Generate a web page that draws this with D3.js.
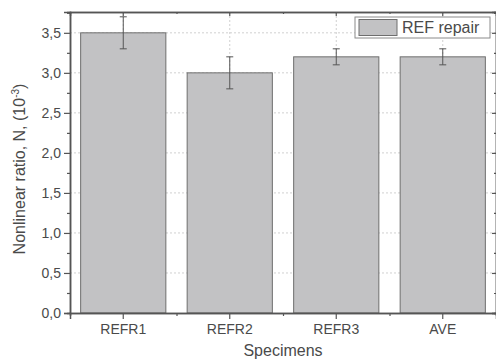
<!DOCTYPE html>
<html>
<head>
<meta charset="utf-8">
<script src="https://cdn.jsdelivr.net/npm/d3@7"></script>
<style>
  body { margin: 0; background: #fff; }
  text { font-family: "Liberation Sans", Arial, sans-serif; fill: #4a4a4a; }
</style>
</head>
<body>
<div id="chart"></div>
<script>
var categories = ['REFR1', 'REFR2', 'REFR3', 'AVE'];
var values = [3.5, 3.0, 3.2, 3.2];
var errLow = [3.3, 2.8, 3.1, 3.1];
var errHigh = [3.7, 3.2, 3.3, 3.3];
var yTicks = [0, 0.5, 1.0, 1.5, 2.0, 2.5, 3.0, 3.5];
var seriesName = 'REF repair';

var W = 496, H = 361;
var margin = {top: 12, right: 0, bottom: 48, left: 70};
var width = W - margin.left - margin.right,
    height = H - margin.top - margin.bottom;
var axisColor = '#555';
var fmt = function(d) { return d3.format('.1f')(d).replace('.', ','); };

var svg = d3.select('#chart').append('svg')
    .attr('width', W)
    .attr('height', H);

var g = svg.append('g')
    .attr('transform', 'translate(' + margin.left + ',' + margin.top + ')');

var x = d3.scaleBand()
    .domain(categories)
    .range([0, width])
    .paddingInner(0.2)
    .paddingOuter(0.1);

var xc = function(d) { return x(d) + x.bandwidth() / 2; };
var step = width / categories.length;

var y = d3.scaleLinear()
    .domain([0, 3.76])
    .range([height, 0]);

var minorY = d3.range(0.25, 3.76, 0.5);

// grid
g.append('g').selectAll('line').data(yTicks.slice(1)).enter().append('line')
    .attr('x1', 0).attr('x2', width)
    .attr('y1', function(d) { return y(d); })
    .attr('y2', function(d) { return y(d); })
    .attr('stroke', '#d0d0d0')
    .attr('stroke-dasharray', '2,2');

g.append('g').selectAll('line').data(categories).enter().append('line')
    .attr('x1', xc).attr('x2', xc)
    .attr('y1', 0).attr('y2', height)
    .attr('stroke', '#d0d0d0')
    .attr('stroke-dasharray', '2,2');

// bars
g.selectAll('rect.bar').data(values).enter().append('rect')
    .attr('class', 'bar')
    .attr('x', function(d, i) { return x(categories[i]); })
    .attr('width', x.bandwidth())
    .attr('y', function(d) { return y(d); })
    .attr('height', function(d) { return height - y(d); })
    .attr('fill', '#c2c2c4')
    .attr('stroke', '#6e6e6e')
    .attr('stroke-width', 1);

// error bars
var eb = g.append('g').attr('stroke', '#555').attr('stroke-width', 1);
categories.forEach(function(c, i) {
  var cx = xc(c);
  eb.append('line').attr('x1', cx).attr('x2', cx)
    .attr('y1', y(errLow[i])).attr('y2', y(errHigh[i]));
  [errLow[i], errHigh[i]].forEach(function(v) {
    eb.append('line').attr('x1', cx - 3.5).attr('x2', cx + 3.5)
      .attr('y1', y(v)).attr('y2', y(v));
  });
});

// axes
g.append('g')
    .call(d3.axisLeft(y).tickValues(yTicks).tickFormat(fmt).tickSize(6).tickPadding(3));
g.append('g').call(d3.axisLeft(y).tickValues(minorY).tickFormat('').tickSize(3));

g.append('g').attr('transform', 'translate(' + width + ',0)')
    .call(d3.axisLeft(y).tickValues(yTicks).tickFormat('').tickSize(4));
g.append('g').attr('transform', 'translate(' + width + ',0)')
    .call(d3.axisLeft(y).tickValues(minorY).tickFormat('').tickSize(2));

g.append('g').attr('transform', 'translate(0,' + height + ')')
    .call(d3.axisBottom(x).tickSize(6).tickPadding(5));
var bounds = d3.range(1, categories.length).map(function(i) { return i * step; });
var xMinor = d3.scaleLinear().domain([0, width]).range([0, width]);
g.append('g').attr('transform', 'translate(0,' + height + ')')
    .call(d3.axisBottom(xMinor).tickValues(bounds).tickFormat('').tickSize(3));

g.append('g')
    .call(d3.axisBottom(x).tickFormat('').tickSize(4));
g.append('g')
    .call(d3.axisBottom(xMinor).tickValues(bounds).tickFormat('').tickSize(2));

g.selectAll('.domain').attr('stroke', axisColor).attr('stroke-width', 1.5);
g.selectAll('.tick line').attr('stroke', axisColor).attr('stroke-width', 1.2);
g.selectAll('.tick text').style('font-size', '14px').attr('fill', '#4a4a4a')
    .style('font-family', '"Liberation Sans", Arial, sans-serif');

// legend
var lg = svg.append('g').attr('transform', 'translate(355,17)');
lg.append('rect').attr('width', 135).attr('height', 21)
    .attr('fill', '#fff').attr('stroke', '#8a8a8a');
lg.append('rect').attr('x', 4).attr('y', 2.5).attr('width', 38).attr('height', 16)
    .attr('fill', '#c2c2c4').attr('stroke', '#6e6e6e');
lg.append('text').attr('x', 47).attr('y', 16).style('font-size', '16px').text(seriesName);

// titles
svg.append('text')
    .attr('x', 283).attr('y', 356)
    .attr('text-anchor', 'middle')
    .style('font-size', '16px')
    .text('Specimens');

var yt = svg.append('text')
    .attr('transform', 'translate(25,169) rotate(-90)')
    .attr('text-anchor', 'middle')
    .style('font-size', '16px');
yt.append('tspan').text('Nonlinear ratio, N, (10');
yt.append('tspan').attr('dy', -6).style('font-size', '10px').text('-3');
yt.append('tspan').attr('dy', 6).text(')');
</script>
</body>
</html>
